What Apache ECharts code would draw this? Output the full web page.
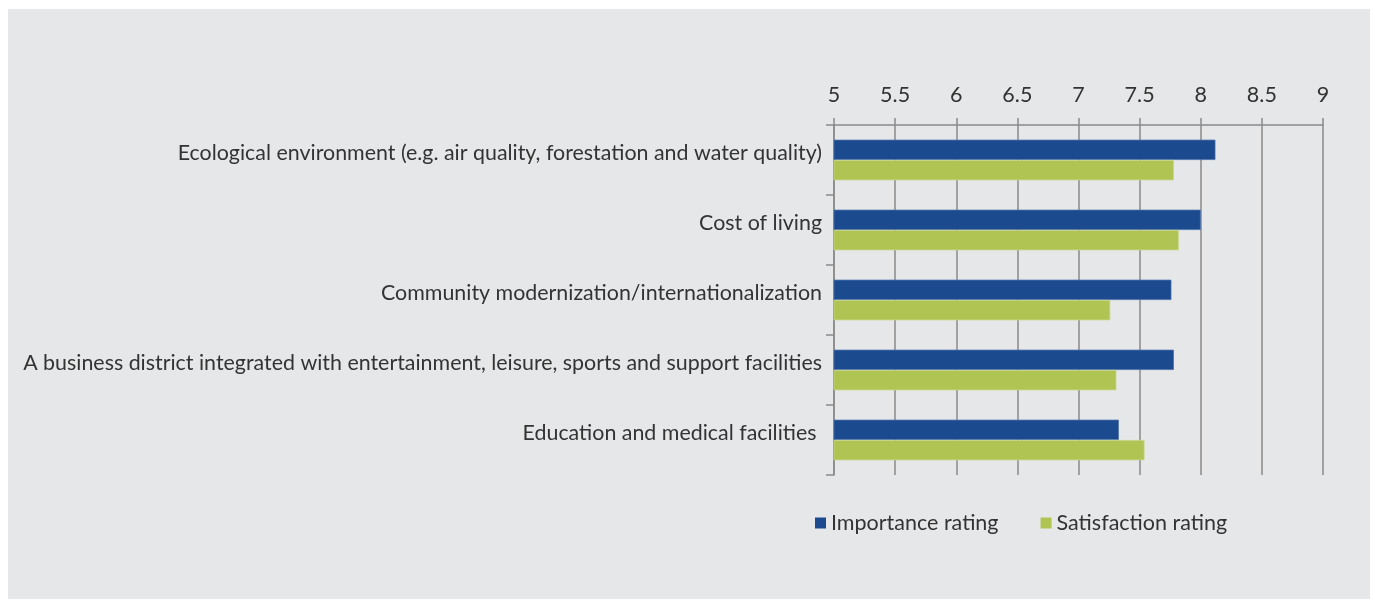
<!DOCTYPE html>
<html>
<head>
<meta charset="utf-8">
<script src="https://cdn.jsdelivr.net/npm/echarts@6/dist/echarts.min.js"></script>
<style>
  body { margin: 0; background: #fff; }
  #panel { position: absolute; left: 8px; top: 9px; width: 1362px; height: 590px; background: #e6e7e9; }
  #main { position: absolute; left: 0; top: 0; width: 1375px; height: 600px; }
</style>
</head>
<body>
<div id="panel"></div>
<div id="main"></div>
<script>
var categories = [
    'Ecological environment (e.g. air quality, forestation and water quality)',
    'Cost of living',
    'Community modernization/internationalization',
    'A business district integrated with entertainment, leisure, sports and support facilities',
    'Education and medical facilities '
];
var importance = [8.12, 8.00, 7.76, 7.78, 7.33];
var satisfaction = [7.78, 7.82, 7.26, 7.31, 7.54];

var myChart = echarts.init(document.getElementById('main'));
var fontFamily = 'Lato, "Open Sans", sans-serif';
var option = {
    backgroundColor: 'transparent',
    textStyle: { fontFamily: fontFamily },
    grid: { left: 834, right: 52, top: 125, bottom: 125, containLabel: false, outerBoundsMode: 'none' },
    legend: {
        data: ['Importance rating', 'Satisfaction rating'],
        left: 810,
        top: 507,
        itemWidth: 11,
        itemHeight: 11,
        itemGap: 42,
        icon: 'rect',
        itemStyle: { borderWidth: 0 },
        textStyle: { fontSize: 21.5, color: '#333', fontFamily: fontFamily }
    },
    xAxis: {
        type: 'value',
        position: 'top',
        min: 5,
        max: 9,
        interval: 0.5,
        axisLine: { show: true, lineStyle: { color: '#8a8a8a', width: 1.5 } },
        axisTick: { show: true, length: 7, lineStyle: { color: '#8a8a8a', width: 1.5 } },
        splitLine: { show: true, lineStyle: { color: '#8a8a8a', width: 1.5 } },
        axisLabel: { fontSize: 21.5, color: '#333', margin: 19, fontFamily: fontFamily }
    },
    yAxis: {
        type: 'category',
        inverse: true,
        data: categories,
        axisLine: { show: true, lineStyle: { color: '#8a8a8a', width: 1.5 } },
        axisTick: { show: true, length: 8, lineStyle: { color: '#8a8a8a', width: 1.5 } },
        axisLabel: {
            fontSize: 21.4, color: '#333', margin: 12,
            verticalAlign: 'bottom', lineHeight: 14,
            fontFamily: fontFamily
        }
    },
    series: [
        {
            name: 'Importance rating',
            type: 'bar',
            data: importance,
            barGap: '0%',
            barCategoryGap: '42%',
            itemStyle: { color: '#1b4a8e', borderColor: '#4a6fa8', borderWidth: 0.8 }
        },
        {
            name: 'Satisfaction rating',
            type: 'bar',
            data: satisfaction,
            itemStyle: { color: '#afc453', borderColor: '#c7d687', borderWidth: 0.8 }
        }
    ]
};
myChart.setOption(option);
</script>
</body>
</html>
